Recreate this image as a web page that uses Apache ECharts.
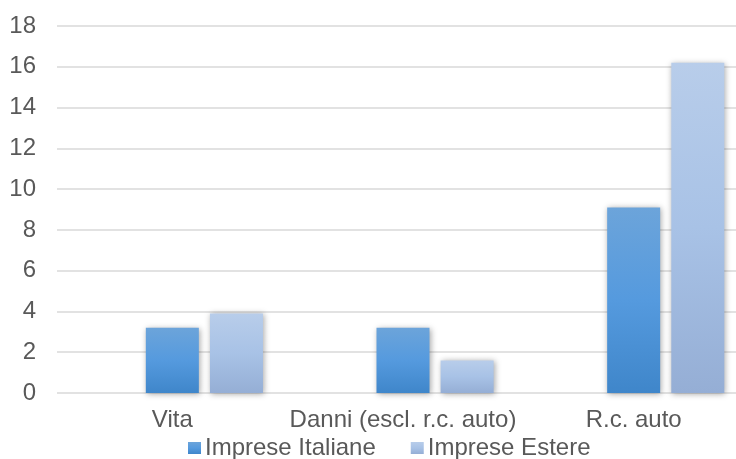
<!DOCTYPE html>
<html>
<head>
<meta charset="utf-8">
<script src="https://cdn.jsdelivr.net/npm/echarts@6/dist/echarts.min.js"></script>
<style>
  html, body { margin: 0; padding: 0; background: #ffffff; }
  #chart { width: 736px; height: 459px; }
</style>
</head>
<body>
<div id="chart"></div>
<script>
// Categories and values
var categories = ['Vita', 'Danni (escl. r.c. auto)', 'R.c. auto'];
var seriesNames = ['Imprese Italiane', 'Imprese Estere'];
var italiane = [3.2, 3.2, 9.1];
var estere = [3.9, 1.6, 16.2];
// first slot of each group is left empty
var vuota = [null, null, null];
var yTicks = { min: 0, max: 18, interval: 2 };

var chart = echarts.init(document.getElementById('chart'), null, { renderer: 'canvas' });

function grad(top, mid, bottom) {
  return new echarts.graphic.LinearGradient(0, 0, 0, 1, [
    { offset: 0, color: top },
    { offset: 0.5, color: mid },
    { offset: 1, color: bottom }
  ]);
}

var shadow = {
  shadowBlur: 6,
  shadowColor: 'rgba(0,0,0,0.35)',
  shadowOffsetX: 1,
  shadowOffsetY: 1
};

var font = 'Liberation Sans, Arial, sans-serif';

chart.setOption({
  animation: false,
  backgroundColor: '#ffffff',
  grid: { left: 57, right: -13, top: 26, bottom: 66, containLabel: false, outerBoundsMode: 'none' },
  legend: {
    data: seriesNames,
    left: 188,
    top: 435,
    padding: 0,
    icon: 'rect',
    itemWidth: 13,
    itemHeight: 12,
    itemGap: 35,
    textStyle: { fontFamily: font, fontSize: 24, color: '#595959', lineHeight: 26, padding: [0, 0, 0, -1] }
  },
  xAxis: {
    type: 'category',
    data: categories,
    axisLine: { show: false },
    axisTick: { show: false },
    axisLabel: { fontFamily: font, fontSize: 24, color: '#595959', margin: 15, interval: 0 }
  },
  yAxis: {
    type: 'value',
    min: yTicks.min,
    max: yTicks.max,
    interval: yTicks.interval,
    axisLine: { show: false },
    axisTick: { show: false },
    axisLabel: { fontFamily: font, fontSize: 24, color: '#595959', margin: 21 },
    splitLine: { lineStyle: { color: '#d9d9d9', width: 1.5 } }
  },
  series: [
    {
      name: '',
      type: 'bar',
      data: vuota,
      barWidth: 53,
      barGap: '21%'
    },
    {
      name: seriesNames[0],
      type: 'bar',
      data: italiane,
      barWidth: 53,
      barGap: '21%',
      itemStyle: Object.assign({ color: grad('#6ca4da', '#559ade', '#3f86ca') }, shadow)
    },
    {
      name: seriesNames[1],
      type: 'bar',
      data: estere,
      barWidth: 53,
      barGap: '21%',
      itemStyle: Object.assign({ color: grad('#b8cdea', '#a8c2e6', '#95aed5') }, shadow)
    }
  ]
});
</script>
</body>
</html>
